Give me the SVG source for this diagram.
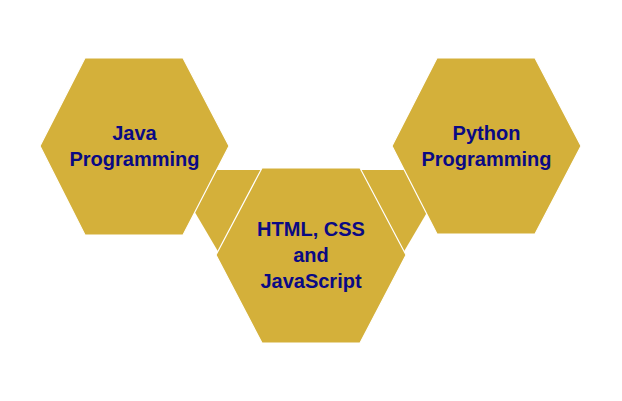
<svg xmlns="http://www.w3.org/2000/svg" width="622" height="401" viewBox="0 0 622 401">
  <style>
    .hex { fill: #D4B03A; stroke: #FFFFFF; stroke-width: 1.2; }
    .piece { fill: #D4B03A; }
    .lbl { font-family: "Liberation Sans", Arial, sans-serif; font-weight: bold; font-size: 20px; fill: #0A0A84; text-anchor: middle; }
  </style>
  <rect width="622" height="401" fill="#FFFFFF"/>
  <g id="connectors">
    <polygon class="piece" points="205,170 275,170 226,265 193,209"/>
    <polygon class="piece" points="417,170 347,170 396,265 429,209"/>
  </g>
  <g id="node-java">
    <polygon class="hex" points="85,58 183,58 229,146 183,235 85,235 40,146"/>
    <text class="lbl" x="134.5" y="140">Java</text>
    <text class="lbl" x="134.5" y="166">Programming</text>
  </g>
  <g id="node-python">
    <polygon class="hex" points="437,58 535,58 581,146 535,234 437,234 392,146"/>
    <text class="lbl" x="486.5" y="140">Python</text>
    <text class="lbl" x="486.5" y="166">Programming</text>
  </g>
  <g id="node-web">
    <polygon class="hex" points="262,168 360,168 406,255 360,343 262,343 216,255"/>
    <text class="lbl" x="311" y="236">HTML, CSS</text>
    <text class="lbl" x="311" y="262">and</text>
    <text class="lbl" x="311" y="288">JavaScript</text>
  </g>
</svg>
